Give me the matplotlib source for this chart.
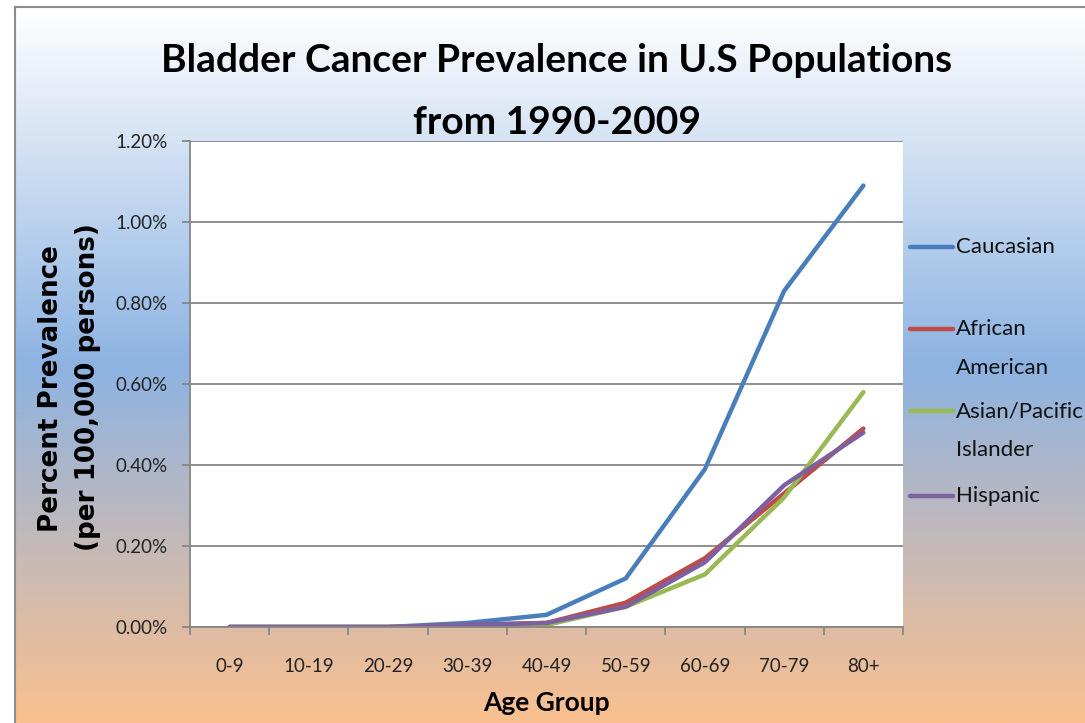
import numpy as np
from matplotlib import pyplot as plt
from matplotlib.colors import LinearSegmentedColormap
from matplotlib.lines import Line2D
from matplotlib.ticker import PercentFormatter

# data (percent)
age_groups = ["0-9", "10-19", "20-29", "30-39", "40-49", "50-59", "60-69", "70-79", "80+"]
caucasian = [0.0, 0.0, 0.0, 0.01, 0.03, 0.12, 0.39, 0.83, 1.09]
african_american = [0.0, 0.0, 0.0, 0.005, 0.01, 0.06, 0.17, 0.33, 0.49]
asian_pacific = [0.0, 0.0, 0.0, 0.003, 0.005, 0.05, 0.13, 0.32, 0.58]
hispanic = [0.0, 0.0, 0.0, 0.005, 0.01, 0.05, 0.16, 0.35, 0.48]

series_names = ["Caucasian", "African\nAmerican", "Asian/Pacific\nIslander", "Hispanic"]
series_colors = ["#4a7ebb", "#be4b48", "#98b954", "#7d60a0"]
y_ticks = [0.0, 0.2, 0.4, 0.6, 0.8, 1.0, 1.2]

W, H = 1085, 723
fig = plt.figure(figsize=(W / 100, H / 100), dpi=100)
fig.patch.set_facecolor("white")

# gradient background (white -> blue -> peach), framed by a thin gray border
bg = fig.add_axes([15 / W, 0, 1 - 15 / W, 1 - 7 / H], zorder=-10)
cmap = LinearSegmentedColormap.from_list("daybreak", [(0, "#ffffff"), (0.5, "#8db3e2"), (1, "#fac08f")])
grad = np.linspace(0, 1, 256).reshape(-1, 1)
bg.imshow(grad, aspect="auto", cmap=cmap, extent=[0, 1, 0, 1])
bg.set_xticks([])
bg.set_yticks([])
for side, s in bg.spines.items():
    s.set_visible(side in ("left", "top"))
    s.set_color("#8c8c8c")
    s.set_linewidth(1.5)

# plot area
x0, x1, y0, y1 = 190, 903, 141, 627
ax = fig.add_axes([x0 / W, 1 - y1 / H, (x1 - x0) / W, (y1 - y0) / H])
ax.set_facecolor("white")

x = np.arange(len(age_groups))
for vals, name, col in zip([caucasian, african_american, asian_pacific, hispanic], series_names, series_colors):
    ax.plot(x, vals, color=col, lw=3.2, solid_capstyle="round", label=name)

ax.set_xlim(-0.5, len(age_groups) - 0.5)
ax.set_ylim(0, 1.2)
ax.set_yticks(y_ticks)
ax.yaxis.set_major_formatter(PercentFormatter(decimals=2))
ax.yaxis.grid(True, color="#868686", lw=1.3)
ax.set_axisbelow(True)

ax.set_xticks(x)
ax.set_xticklabels(age_groups, fontfamily="Lato", fontsize=13.5, color="#222222")
ax.set_xticks(np.arange(-0.5, len(age_groups)), minor=True)
ax.tick_params(axis="x", which="major", length=0, pad=22)
ax.tick_params(axis="x", which="minor", length=6, color="#868686", width=1.3)
ax.tick_params(axis="y", length=6, color="#868686", width=1.3, pad=10, labelsize=13.5)
for lab in ax.get_yticklabels():
    lab.set_fontfamily("Lato")
    lab.set_color("#222222")

for side in ["top", "right"]:
    ax.spines[side].set_visible(False)
for side in ["left", "bottom"]:
    ax.spines[side].set_color("#868686")
    ax.spines[side].set_linewidth(1.3)

# titles and axis labels
fig.text(557 / W, 1 - 60 / H, "Bladder Cancer Prevalence in U.S Populations",
         ha="center", va="center", fontfamily="Lato", fontweight="bold", fontsize=28, color="black")
fig.text(557 / W, 1 - 122 / H, "from 1990-2009",
         ha="center", va="center", fontfamily="Lato", fontweight="bold", fontsize=28, color="black")
fig.text(51 / W, 1 - 389 / H, "Percent Prevalence", rotation=90,
         ha="center", va="center", fontfamily="DejaVu Sans", fontweight="bold", fontsize=18.8, color="black")
fig.text(88 / W, 1 - 387 / H, "(per 100,000 persons)", rotation=90,
         ha="center", va="center", fontfamily="DejaVu Sans", fontweight="bold", fontsize=18.8, color="black")
fig.text(546 / W, 1 - 703 / H, "Age Group", ha="center", va="center",
         fontfamily="Lato", fontweight="bold", fontsize=19, color="black")

# legend drawn beside the plot, handle level with the first text line
leg_y = [247, 329, 411, 496]
for name, col, yy in zip(series_names, series_colors, leg_y):
    fig.add_artist(Line2D([910 / W, 953 / W], [1 - yy / H, 1 - yy / H], color=col, lw=3.2,
                          solid_capstyle="round", transform=fig.transFigure))
    for k, part in enumerate(name.split("\n")):
        fig.text(956 / W, 1 - (yy + 39 * k) / H, part, ha="left", va="center", fontfamily="Lato",
                 fontsize=16, color="#111111")

fig.savefig("out.png", dpi=100)
